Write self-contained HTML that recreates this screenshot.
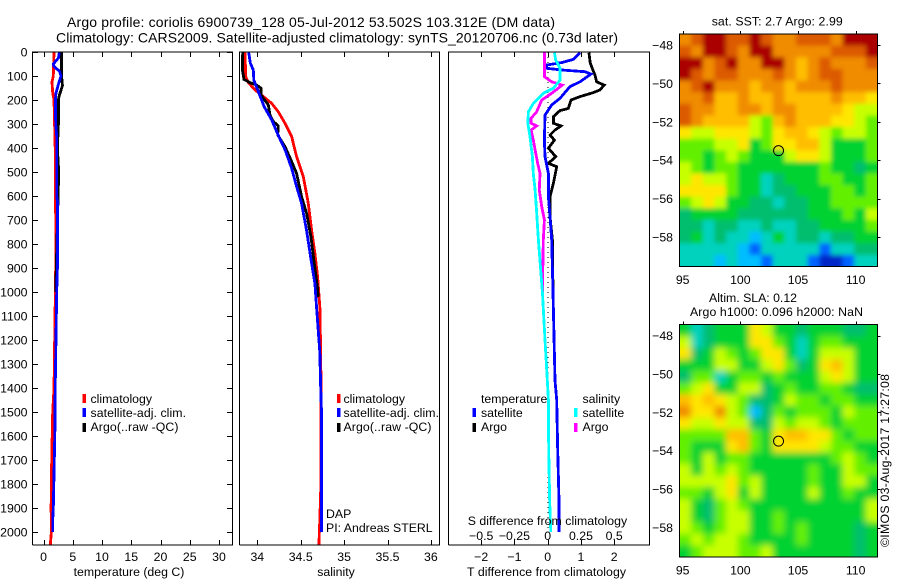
<!DOCTYPE html>
<html lang="en">
<head>
<meta charset="utf-8">
<title>Argo profile 6900739_128</title>
<style>
html,body{margin:0;padding:0;background:#fff;}
svg{display:block;font-family:"Liberation Sans",sans-serif;font-size:12.3px;fill:#000;}
.line{fill:none;stroke-width:2.8;shape-rendering:crispEdges;stroke-linejoin:miter;}
.frame{fill:none;stroke:#000;stroke-width:1;shape-rendering:crispEdges;}
.tick{stroke:#000;stroke-width:1;shape-rendering:crispEdges;}
text{fill:#000;}
.title{font-size:14px;}
.m{text-anchor:middle;}
.e{text-anchor:end;}
</style>
</head>
<body>
<svg id="chart" xmlns="http://www.w3.org/2000/svg" width="900" height="580" viewBox="0 0 900 580">
<rect width="900" height="580" fill="#fff"/>
<text class="title" x="67" y="27" textLength="488">Argo profile: coriolis 6900739_128 05-Jul-2012 53.502S 103.312E (DM data)</text>
<text class="title" x="56" y="42.5" textLength="562">Climatology: CARS2009. Satellite-adjusted climatology: synTS_20120706.nc (0.73d later)</text>

<g id="maps"></g>
<g id="plots"></g>

<g>
<rect x="82.5" y="394" width="3.5" height="9" fill="#f00"/>
<rect x="82.5" y="408" width="3.5" height="9" fill="#00f"/>
<rect x="82.5" y="423" width="3.5" height="9" fill="#000"/>
<text x="90.5" y="403">climatology</text>
<text x="90.5" y="417" textLength="95.5">satellite-adj. clim.</text>
<text x="90.5" y="431" textLength="88">Argo(..raw -QC)</text>
</g>
<g>
<rect x="337" y="394" width="3.5" height="9" fill="#f00"/>
<rect x="337" y="408" width="3.5" height="9" fill="#00f"/>
<rect x="337" y="423" width="3.5" height="9" fill="#000"/>
<text x="343.5" y="403">climatology</text>
<text x="343.5" y="417" textLength="95.5">satellite-adj. clim.</text>
<text x="343.5" y="431" textLength="88">Argo(..raw -QC)</text>
<text x="326" y="518">DAP</text>
<text x="326" y="532">PI: Andreas STERL</text>
</g>
<g>
<text x="481" y="403">temperature</text>
<text x="582.5" y="403">salinity</text>
<rect x="472.5" y="408" width="3.5" height="9" fill="#00f"/>
<rect x="472.5" y="423" width="3.5" height="9" fill="#000"/>
<rect x="574" y="408" width="3.5" height="9" fill="#0ff"/>
<rect x="574" y="423" width="3.5" height="9" fill="#f0f"/>
<text x="481" y="417">satellite</text>
<text x="481" y="431">Argo</text>
<text x="582.5" y="417">satellite</text>
<text x="582.5" y="431">Argo</text>
<text x="467.7" y="525" textLength="159.5">S difference from climatology</text>
</g>
<text class="m" x="129" y="576">temperature (deg C)</text>
<text class="m" x="336" y="576">salinity</text>
<text x="467" y="576" textLength="159">T difference from climatology</text>
<text x="711.7" y="25.5" textLength="131">sat. SST: 2.7 Argo: 2.99</text>
<text x="709" y="302" textLength="88">Altim. SLA: 0.12</text>
<text x="690" y="316" textLength="173">Argo h1000: 0.096 h2000: NaN</text>
<text transform="translate(889,547) rotate(-90)" textLength="173">©IMOS 03-Aug-2017 17:27:08</text>
</svg>

<script>
var depthTicks = [0,100,200,300,400,500,600,700,800,900,1000,1100,1200,1300,1400,1500,1600,1700,1800,1900,2000];
var tempTicks = [0,5,10,15,20,25,30];
var salTicks = [34,34.5,35,35.5,36];
var salTickLabels = ['34','34.5','35','35.5','36'];
var tDiffTicks = [-2,-1,0,1,2];
var tDiffLabels = ['−2','−1','0','1','2'];
var sDiffTicks = [-0.5,-0.25,0,0.25,0.5];
var sDiffLabels = ['−0.5','−0.25','0','0.25','0.5'];
var lonTicks = [95,100,105,110];
var latTicks = [-48,-50,-52,-54,-56,-58];
var latLabels = ['−48','−50','−52','−54','−56','−58'];
var argoLon = 103.312;
var argoLat = -53.502;

var tempClimDepth = [0,100,125,170,200,400,700,900,1400,1500,1700,1900,2000,2054];
var tempClimValue = [1.8,1.68,1.45,1.57,1.8,2.0,2.08,2.08,1.8,1.57,1.4,1.3,1.35,1.17];
var tempArgoDepth = [0,100,130,140,180,200,300,400,500,600,950,1000];
var tempArgoValue = [3.1,3.1,3.2,3.25,2.7,2.55,2.55,2.37,2.6,2.5,2.14,2.14];
var tempSatDepth = [0,25,50,60,80,100,120,150,170,200,300,350,600,620,900,1000,1400,1550,1700,1900,1950,2000];
var tempSatValue = [2.71,2.54,1.68,1.8,2.71,3.0,2.71,2.37,2.14,2.03,2.08,2.25,2.25,2.37,2.37,2.25,2.0,1.97,1.85,1.68,1.57,1.57];

var salClimDepth = [0,103,128,158,186,214,249,297,353,436,519,631,742,839,936,1072,1400,1800,1950,2054];
var salClimValue = [33.858,33.866,33.897,33.973,34.07,34.166,34.242,34.319,34.396,34.453,34.53,34.588,34.626,34.664,34.695,34.722,34.735,34.733,34.72,34.71];
var salArgoDepth = [0,75,114,128,138,151,179,221,263,290,308,346,394,457,506,603,672,769,881,986,1020];
var salArgoValue = [33.832,33.828,33.847,33.916,33.993,34.043,34.043,34.127,34.146,34.185,34.242,34.235,34.319,34.396,34.453,34.51,34.568,34.618,34.657,34.695,34.7];
var salSatDepth = [0,47,75,117,165,228,283,346,408,485,561,631,749,867,964,1072,1250,1400,1500,2000];
var salSatValue = [33.9,33.92,33.954,33.96,34.012,34.08,34.166,34.24,34.32,34.396,34.453,34.51,34.57,34.62,34.664,34.684,34.72,34.73,34.74,34.74];

var diffTArgoDepth = [3,47,96,124,138,158,169,186,200,235,244,269,297,308,325,346,367,401,436,464,478,547,603,686,783,1000];
var diffTArgoValue = [1.24,1.28,1.42,1.47,1.7,1.57,1.37,0.97,0.7,0.62,0.37,0.17,0.17,0.4,0.22,0.07,0.2,0.02,0.24,0.02,0.27,0.17,0.07,0.07,0.14,0.16];
var diffTSatDepth = [3,31,44,54,68,75,82,92,124,144,193,221,263,367,436,506,603,686,783,1000,1367,1450,1658,1870,2000];
var diffTSatValue = [0.97,0.77,0.42,-0.03,-0.03,0.42,1.12,1.3,0.97,0.67,0.37,0.12,-0.08,-0.1,-0.08,0.02,0.02,0.07,0.12,0.16,0.22,0.27,0.3,0.34,0.34];
var diffSArgoDepth = [3,103,124,138,172,200,249,276,297,308,325,367,408,464,506,575,644,700,783,1000];
var diffSArgoValue = [-0.025,-0.025,0.03,0.11,0.03,-0.045,-0.083,-0.125,-0.125,-0.083,-0.125,-0.108,-0.095,-0.075,-0.058,-0.063,-0.045,-0.025,-0.033,-0.04];
var diffSSatDepth = [3,33,68,117,151,172,214,249,297,353,436,506,575,672,783,1000,1200,1367,1450,1658,1875,2000];
var diffSSatValue = [0.05,0.06,0.093,0.093,0.043,-0.033,-0.108,-0.145,-0.15,-0.133,-0.115,-0.108,-0.095,-0.083,-0.07,-0.04,-0.02,-0.003,0.005,0.0075,0.015,0.023];

var mapColors = ['#0028c8','#0064ff','#00beff','#00d2be','#00be6e','#00d232','#64f000','#c8ff00','#ffe600','#ffbe00','#f08c00','#dc5a00','#aa0000'];
var sstRows = [
[10,11,12,12,11,11,12,11,10,10,11,11,11,10,12,12,12],
[11,10,12,12,11,10,12,12,10,10,10,10,10,11,11,11,12],
[12,12,10,11,12,10,10,12,12,10,9,10,11,10,10,10,11],
[12,11,10,11,11,10,10,10,11,10,9,10,11,11,10,10,10],
[10,11,12,10,10,10,9,10,10,9,10,10,10,11,10,10,10],
[10,10,11,9,9,10,9,9,10,9,9,9,9,10,9,9,8],
[11,10,10,9,9,10,10,9,10,10,9,9,9,9,8,7,7],
[11,10,9,9,9,9,7,6,9,10,9,9,9,8,8,7,6],
[8,7,7,8,8,8,7,6,8,9,9,8,7,6,7,7,6],
[6,6,6,7,7,8,5,6,8,8,9,9,7,5,5,5,6],
[6,6,5,6,7,6,5,5,5,7,8,8,7,5,5,5,6],
[7,6,5,6,6,5,5,5,5,5,5,5,6,5,5,4,5],
[7,8,7,7,6,5,5,3,4,5,5,5,6,6,5,5,6],
[8,8,8,8,6,5,5,3,4,4,5,5,5,6,6,5,6],
[6,7,8,7,5,5,4,4,3,4,4,5,5,6,6,6,6],
[4,5,5,5,5,4,4,4,4,4,4,5,5,5,6,5,7],
[4,4,3,4,4,3,3,4,3,3,4,4,5,5,5,5,6],
[4,5,3,4,3,3,2,3,5,3,4,4,3,4,4,5,5],
[3,3,3,3,3,2,1,3,3,3,3,3,1,3,3,4,4],
[3,3,3,2,3,2,2,1,3,3,3,1,0,0,1,3,3]
];
var slaRows = [
[5,3,4,5,5,5,8,7,5,5,4,5,5,5,4,4,5],
[7,3,4,5,5,5,8,8,6,5,3,5,6,6,5,5,5],
[8,4,5,7,6,5,6,8,8,5,3,5,7,7,7,5,5],
[5,5,5,7,7,5,5,7,8,6,4,5,8,9,7,5,5],
[4,6,6,3,5,6,6,5,6,5,5,5,7,8,7,5,5],
[6,7,8,5,5,7,7,4,5,6,5,5,6,6,5,4,4],
[9,8,9,8,7,6,4,4,5,7,6,6,5,6,6,5,5],
[10,8,8,10,7,6,2,4,6,5,6,6,6,5,7,6,6],
[8,7,7,8,7,7,4,4,7,6,7,7,6,5,6,6,6],
[6,6,6,6,9,9,6,5,8,9,9,8,8,6,5,6,6],
[6,5,5,5,8,9,6,5,8,8,8,8,7,6,6,5,5],
[6,5,7,5,6,6,5,5,5,5,5,5,5,6,7,6,5],
[7,5,7,6,7,6,5,5,5,5,5,6,5,5,7,6,6],
[7,7,7,7,8,6,7,5,5,5,5,6,5,5,7,7,5],
[6,6,5,7,8,5,7,5,5,5,5,7,5,5,6,5,5],
[7,5,4,6,7,6,5,5,5,5,5,5,5,5,5,5,7],
[7,5,4,6,7,7,5,5,6,5,5,5,5,5,5,5,7],
[7,6,5,6,7,7,5,5,6,5,6,5,5,5,5,4,5],
[6,7,6,7,7,6,5,5,5,5,6,5,5,5,5,4,5],
[5,6,7,7,7,6,6,7,5,5,5,5,5,5,5,4,5]
];

var NS = 'http://www.w3.org/2000/svg';
var plots = document.getElementById('plots');
var maps = document.getElementById('maps');

function make(tag, parent, attrs, txt) {
  var el = document.createElementNS(NS, tag);
  for (var k in attrs) { el.setAttribute(k, attrs[k]); }
  if (txt !== undefined) { el.textContent = txt; }
  parent.appendChild(el);
  return el;
}

var plotTop = 52, plotBottom = 545;
function yDepth(d) { return 52 + d * 0.24; }
function xTemp(v) { return 43.5 + v * 5.85; }
function xSal(v) { return 257.3 + (v - 34) * 86.8; }
function xTDiff(v) { return 547.7 + v * 33.25; }
function xSDiff(v) { return 547.7 + v * 133; }

function drawLine(parent, depths, values, xf, color, name) {
  var pts = [];
  for (var i = 0; i < depths.length; i++) {
    pts.push(xf(values[i]).toFixed(1) + ',' + yDepth(depths[i]).toFixed(1));
  }
  var el = make('polyline', parent, {'class': 'line', points: pts.join(' '), stroke: color});
  
  
}

function drawFrame(left, right, name) {
  var el = make('path', plots, {'class': 'frame', d: 'M' + left + ' ' + plotBottom + 'V' + plotTop + 'H' + right + 'V' + plotBottom + 'H' + left});
  
  
}

function drawXTicks(ticks, labels, xf, labelY) {
  for (var i = 0; i < ticks.length; i++) {
    var x = Math.round(xf(ticks[i])) + 0.5;
    var top = make('line', plots, {'class': 'tick', x1: x, x2: x, y1: plotTop, y2: plotTop + 5});
    
    
    var bot = make('line', plots, {'class': 'tick', x1: x, x2: x, y1: plotBottom, y2: plotBottom - 5});
    
    
    var lab = make('text', plots, {'class': 'm', x: xf(ticks[i]), y: labelY}, labels[i]);
    
    
  }
}

/* panel 1: temperature */
drawLine(plots, tempClimDepth, tempClimValue, xTemp, '#f00', 'temperature-climatology-line');
drawLine(plots, tempArgoDepth, tempArgoValue, xTemp, '#000', 'temperature-argo-line');
drawLine(plots, tempSatDepth, tempSatValue, xTemp, '#00f', 'temperature-satellite-line');
drawFrame(32.5, 232.5, 'temperature-panel-frame');
drawXTicks(tempTicks, tempTicks, xTemp, 561);
for (var di = 0; di < depthTicks.length; di++) {
  var dy = Math.round(yDepth(depthTicks[di])) + 0.5;
  var tl = make('line', plots, {'class': 'tick', x1: 32, x2: 38, y1: dy, y2: dy});
  
  
  var tr = make('line', plots, {'class': 'tick', x1: 232, x2: 227, y1: dy, y2: dy});
  
  
  var dl = make('text', plots, {'class': 'e', x: 27.5, y: yDepth(depthTicks[di]) + 4.5}, depthTicks[di]);
  
  
}

/* panel 2: salinity */
drawLine(plots, salClimDepth, salClimValue, xSal, '#f00', 'salinity-climatology-line');
drawLine(plots, salArgoDepth, salArgoValue, xSal, '#000', 'salinity-argo-line');
drawLine(plots, salSatDepth, salSatValue, xSal, '#00f', 'salinity-satellite-line');
drawFrame(239.5, 439.5, 'salinity-panel-frame');
drawXTicks(salTicks, salTickLabels, xSal, 561);

/* panel 3: differences */
var zeroLine = make('line', plots, {x1: 548, x2: 548, y1: yDepth(0), y2: yDepth(2000), stroke: '#000', 'stroke-width': 1, 'stroke-dasharray': '1 4', 'shape-rendering': 'crispEdges'});


drawLine(plots, diffTArgoDepth, diffTArgoValue, xTDiff, '#000', 't-difference-argo-line');
drawLine(plots, diffTSatDepth, diffTSatValue, xTDiff, '#00f', 't-difference-satellite-line');
drawLine(plots, diffSArgoDepth, diffSArgoValue, xSDiff, '#f0f', 's-difference-argo-line');
drawLine(plots, diffSSatDepth, diffSSatValue, xSDiff, '#0ff', 's-difference-satellite-line');
drawFrame(448.5, 649.5, 'difference-panel-frame');
drawXTicks(tDiffTicks, tDiffLabels, xTDiff, 561);
for (var si = 0; si < sDiffTicks.length; si++) {
  var sl = make('text', plots, {'class': 'm', x: xSDiff(sDiffTicks[si]), y: 540}, sDiffLabels[si]);
  
  
}

/* maps */
function drawMap(rows, top, name, blur) {
  var left = 679.5, right = 877.5, h = 232.5;
  var g = make('g', maps, {});
  
  
  var clipId = name + '-clip';
  var cp = make('clipPath', g, {id: clipId});
  make('rect', cp, {x: left, y: top, width: right - left, height: h});
  var clipG = make('g', g, {'clip-path': 'url(#' + clipId + ')'});
  var f = make('filter', g, {id: name + '-blur', x: '-10%', y: '-10%', width: '120%', height: '120%'});
  make('feGaussianBlur', f, {stdDeviation: blur});
  var cells = make('g', clipG, {filter: 'url(#' + name + '-blur)'});
  var cw = (right - left) / rows[0].length, ch = h / rows.length, pad = 14;
  for (var r = 0; r < rows.length; r++) {
    for (var c = 0; c < rows[r].length; c++) {
      var cx0 = left + c * cw, cy0 = top + r * ch, cx1 = cx0 + cw + 0.6, cy1 = cy0 + ch + 0.6;
      if (c === 0) { cx0 -= pad; }
      if (r === 0) { cy0 -= pad; }
      if (c === rows[r].length - 1) { cx1 += pad; }
      if (r === rows.length - 1) { cy1 += pad; }
      var cell = make('rect', cells, {x: cx0.toFixed(2), y: cy0.toFixed(2), width: (cx1 - cx0).toFixed(2), height: (cy1 - cy0).toFixed(2), fill: mapColors[rows[r][c]]});
      
      
    }
  }
  var frame = make('rect', g, {'class': 'frame', x: left, y: top, width: right - left, height: h});
  
  

  function xLon(lon) { return 682.7 + (lon - 95) * 11.53; }
  function yLat(lat) { return top + 11 + (-48 - lat) * 19.2; }

  for (var i = 0; i < lonTicks.length; i++) {
    var x = xLon(lonTicks[i]);
    var t = make('line', g, {'class': 'tick', x1: Math.round(x) + 0.5, x2: Math.round(x) + 0.5, y1: top - 3, y2: top});
    
    
    var l = make('text', g, {'class': 'm', x: x, y: top + h + 17.5}, lonTicks[i]);
    
    
  }
  for (var j = 0; j < latTicks.length; j++) {
    var y = yLat(latTicks[j]);
    var t2 = make('line', g, {'class': 'tick', x1: right, x2: right + 3, y1: Math.round(y) + 0.5, y2: Math.round(y) + 0.5});
    
    
    var l2 = make('text', g, {'class': 'e', x: 673, y: y + 4.5}, latLabels[j]);
    
    
  }
  var marker = make('circle', g, {cx: xLon(argoLon), cy: yLat(argoLat), r: 5, fill: 'none', stroke: '#000', 'stroke-width': 1});
  
  
}
drawMap(sstRows, 34, 'sst-map', 2.5);
drawMap(slaRows, 324.5, 'sla-map', 3.5);
</script>
</body>
</html>
